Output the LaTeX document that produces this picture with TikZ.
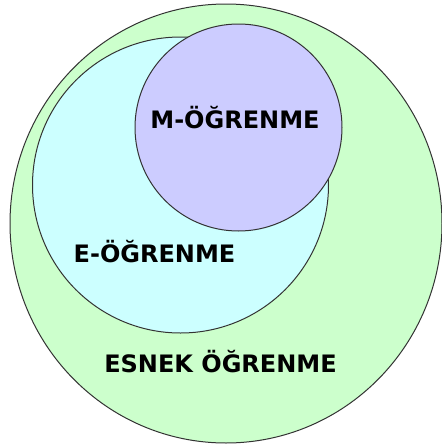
\documentclass[tikz,border=0pt]{standalone}
\usepackage{fontspec}
\newfontfamily\labelfont{DejaVu Sans}[Scale=1]
\definecolor{esnekgreen}{HTML}{CCFFCC}
\definecolor{ecyan}{HTML}{CCFFFF}
\definecolor{mpurple}{HTML}{CCCCFF}
\definecolor{edge}{HTML}{333333}
\tikzset{
  ring/.style={draw=edge, line width=1pt},
  lbl/.style={anchor=base, inner sep=0pt, font=\labelfont\bfseries\fontsize{24}{28}\selectfont, text=black}
}
\begin{document}
\begin{tikzpicture}[x=1pt,y=-1pt]
\useasboundingbox (0,0) rectangle (442,445);
\fill[white] (0,0) rectangle (442,445);
\filldraw[ring, fill=esnekgreen] (226,223.5) ellipse [x radius=216, y radius=219.5];
\filldraw[ring, fill=ecyan] (180.5,185) circle [radius=148];
\filldraw[ring, fill=mpurple] (238.5,127.5) circle [radius=103.5];
\node[lbl] (m) at (235,128) {M-ÖĞRENME};
\node[lbl] (e) at (154.5,262) {E-ÖĞRENME};
\node[lbl] (f) at (220.5,372.5) {ESNEK ÖĞRENME};
\end{tikzpicture}
\end{document}
